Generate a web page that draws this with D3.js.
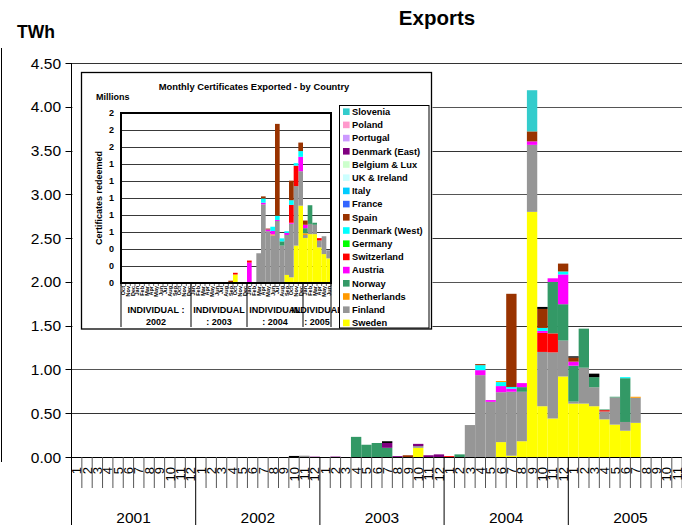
<!DOCTYPE html>
<html><head><meta charset="utf-8">
<script src="https://cdn.jsdelivr.net/npm/d3@7/dist/d3.min.js"></script>
<style>body{margin:0;background:#fff}svg{display:block;font-family:"Liberation Sans",Arial,sans-serif}</style>
</head><body><svg id="c" width="682" height="525"></svg>
<script>
// ---------------- DATA ----------------
const monthLabels = ["1","2","3","4","5","6","7","8","9","10","11","12"];
const years = ["2001","2002","2003","2004","2005"];
const yTicks = [0,0.5,1,1.5,2,2.5,3,3.5,4,4.5];
const z12 = [0,0,0,0,0,0,0,0,0,0,0,0];

// Main chart (TWh), one value per month Jan 2001 .. Dec 2005
const mSweden = [].concat(z12, z12,
  [0,0,0,0,0,0,0,0,0,0.105,0,0],
  [0,0,0,0,0,0.17,0.015,0.18,2.80,0.58,0.44,0.92],
  [0.61,0.61,0.58,0.43,0.37,0.30,0.39,0,0,0,0,0]);
const mFinland = [].concat(z12,
  [0,0,0,0,0,0,0,0,0,0,0.015,0],
  [0,0,0,0,0,0,0,0,0,0.02,0,0],
  [0,0,0.365,0.935,0.63,0.57,0.73,0.565,0.765,0.62,0.755,0.41],
  [0.023,0.41,0.217,0.09,0.31,0.10,0.286,0,0,0,0,0]);
const mSwitzerland = [].concat(z12, z12, z12,
  [0.01,0,0,0,0,0,0,0,0,0.217,0.217,0],
  [0,0,0,0.015,0,0,0,0,0,0,0,0]);
const mNorway = [].concat(z12, z12,
  [0,0,0,0.23,0.14,0.16,0.105,0,0,0,0,0],
  [0,0.03,0,0,0,0,0,0.053,0,0,0.587,0.415],
  [0.41,0.446,0.115,0.008,0.008,0.5,0,0,0,0,0,0]);
const mAustria = [].concat(z12, z12, z12,
  [0,0,0,0.057,0.02,0.07,0.035,0.046,0.04,0.023,0.042,0.34],
  [0.046,0,0,0,0,0,0,0,0,0,0,0]);
const mDenmarkWest = [].concat(z12, z12, z12,
  [0,0,0,0.057,0,0.046,0.02,0,0,0.034,0,0.034],
  [0,0,0,0,0,0.012,0,0,0,0,0,0]);
const mNetherlands = [].concat(z12, z12, z12,
  [0,0,0,0,0,0.012,0,0,0,0,0,0],
  [0,0,0,0,0,0,0.012,0,0,0,0,0]);
const mSpain = [].concat(z12, z12,
  [0,0,0,0,0,0,0,0,0.02,0,0,0],
  [0,0,0,0.012,0,0,1.064,0,0.114,0.217,0,0.09],
  [0.046,0,0,0,0,0,0,0,0,0,0,0]);
const mDenmarkEast = [].concat(z12,
  [0,0,0,0,0,0,0,0,0,0,0,0.004],
  [0,0.005,0,0,0,0,0.055,0.01,0,0.025,0.02,0.03],
  z12, z12);
const mOther = [].concat(z12,
  [0,0,0,0,0,0,0,0,0,0.012,0,0],
  [0,0,0,0,0,0,0.02,0,0,0,0,0],
  [0,0,0,0,0,0,0,0,0,0.023,0,0],
  [0.015,0,0.04,0,0,0,0,0,0,0,0,0]);
const mSlovenia = [].concat(z12, z12, z12,
  [0,0,0,0,0,0,0,0,0.47,0,0,0],
  z12);

// Inset (millions of certificates), Oct 2001 .. Jun 2005
const insetGroups = [["INDIVIDUAL :","2002"],["INDIVIDUAL",": 2003"],["INDIVIDUAL",": 2004"],["INDIVIDUAL",": 2005"]];
const insetGroupSizes = [15,12,12,6];
const insetMonthNames = ["Oct","Nov","Dec","Jan","Feb","Mar","Apr","May","Jun","Jul","Aug","Sep","Oct","Nov","Dec",
  "Jan","Feb","Mar","Apr","May","Jun","Jul","Aug","Sep","Oct","Nov","Dec",
  "Jan","Feb","Mar","Apr","May","Jun","Jul","Aug","Sep","Oct","Nov","Dec",
  "Jan","Feb","Mar","Apr","May","Jun"];
const insetTicks = [0,0.2,0.4,0.6,0.8,1.0,1.2,1.4,1.6,1.8,2.0];
const z15 = [0,0,0,0,0,0,0,0,0,0,0,0,0,0,0];
const iSweden = [].concat(z15,
  [0,0,0,0,0,0,0,0,0,0.10,0,0],
  [0,0,0,0,0,0,0.01,0,0.095,0.067,0.44,0.91],
  [0.53,0.575,0.575,0.42,0.34,0.29]);
const iFinland = [].concat(z15, z12,
  [0,0,0.35,0.925,0.61,0.56,0.72,0.44,0.47,0.63,0.70,0.405],
  [0.035,0.12,0.11,0.08,0.21,0.095]);
const iNetherlands = [].concat(z15, z12,
  [0,0,0,0,0,0.012,0,0,0,0,0,0],
  [0.02,0,0,0,0,0]);
const iNorway = [].concat(z15, z12,
  [0,0,0,0,0,0,0,0.05,0,0,0,0],
  [0.06,0.22,0.024,0,0,0]);
const iAustria = [].concat(z15, z12,
  [0.24,0,0,0.02,0.02,0.04,0.012,0,0.024,0.012,0,0.17],
  [0.04,0,0,0,0,0]);
const iSwitzerland = [].concat(z15,
  [0,0,0,0,0,0,0,0,0,0.02,0,0.008],
  [0.024,0,0,0,0,0,0,0,0,0.21,0.24,0],
  [0,0,0,0.028,0,0]);
const iDenmarkWest = [].concat(z15, z12,
  [0,0,0,0.05,0,0.05,0.05,0.035,0.02,0.055,0.03,0.067],
  [0,0,0,0,0,0]);
const iSpain = [].concat(z15,
  [0,0,0,0,0,0,0.01,0,0.027,0,0,0],
  [0,0,0,0.024,0.01,0,1.08,0,0,0.23,0,0.1],
  [0.05,0,0,0,0,0]);

const legendNames = ["Slovenia","Poland","Portugal","Denmark (East)","Belgium & Lux","UK & Ireland","Italy","France","Spain","Denmark (West)","Germany","Switzerland","Austria","Norway","Netherlands","Finland","Sweden"];
const legendColors = ["#33CCCC","#FF99CC","#CC99FF","#800080","#CCFFCC","#CCFFFF","#00CCFF","#3366FF","#993300","#00FFFF","#00FF00","#FF0000","#FF00FF","#339966","#FF9900","#969696","#FFFF00"];
const colorOf = Object.fromEntries(legendNames.map((n,i)=>[n,legendColors[i]]));
colorOf["Other"] = "#000000";

// ---------------- BUILD ----------------
const mainSeries = {"Sweden":mSweden,"Finland":mFinland,"Switzerland":mSwitzerland,"Norway":mNorway,"Austria":mAustria,
  "Denmark (West)":mDenmarkWest,"Netherlands":mNetherlands,"Spain":mSpain,"Denmark (East)":mDenmarkEast,"Other":mOther,"Slovenia":mSlovenia};
const mainKeys = Object.keys(mainSeries);
const mainRows = mSweden.map((_,i)=>{const r={i}; mainKeys.forEach(k=>r[k]=mainSeries[k][i]); return r;});

const insetSeries = {"Sweden":iSweden,"Finland":iFinland,"Netherlands":iNetherlands,"Norway":iNorway,"Austria":iAustria,
  "Switzerland":iSwitzerland,"Denmark (West)":iDenmarkWest,"Spain":iSpain};
const insetKeys = Object.keys(insetSeries);
const insetRows = iSweden.map((_,i)=>{const r={i}; insetKeys.forEach(k=>r[k]=insetSeries[k][i]); return r;});

const svg = d3.select("#c");
const X0 = 71.5, MW = 10.35;
const x = d3.scaleBand().domain(mainRows.map(d=>d.i)).range([X0, X0+MW*mainRows.length]).padding(0);
const y = d3.scaleLinear().domain([0,4.5]).range([457,63]);

// frame line at left
svg.append("line").attr("x1",1.5).attr("x2",1.5).attr("y1",48).attr("y2",462).attr("stroke","#000");

// gridlines
svg.append("g").selectAll("line").data(yTicks.filter(v=>v>0)).join("line")
  .attr("x1",X0).attr("x2",682).attr("y1",d=>Math.round(y(d))+0.5).attr("y2",d=>Math.round(y(d))+0.5)
  .attr("stroke",(d,i)=>i%2?"#555":"#333").attr("stroke-width",1);

// bars
const mStack = d3.stack().keys(mainKeys)(mainRows);
svg.append("g").selectAll("g").data(mStack).join("g").attr("fill",d=>colorOf[d.key])
  .selectAll("rect").data(d=>d.filter(s=>s[1]-s[0]>0)).join("rect")
  .attr("x",d=>x(d.data.i)).attr("width",x.bandwidth())
  .attr("y",d=>y(d[1])).attr("height",d=>y(d[0])-y(d[1]));

// y axis
const ya = svg.append("g");
ya.append("line").attr("x1",X0).attr("x2",X0).attr("y1",y(4.5)).attr("y2",y(0)).attr("stroke","#000");
ya.selectAll("line.t").data(yTicks).join("line").attr("class","t")
  .attr("x1",X0-6).attr("x2",X0).attr("y1",d=>Math.round(y(d))+0.5).attr("y2",d=>Math.round(y(d))+0.5).attr("stroke","#000");
ya.selectAll("text").data(yTicks).join("text")
  .attr("x",61).attr("y",d=>y(d)).attr("dy","0.36em").attr("text-anchor","end")
  .attr("font-size",15.5).text(d3.format(".2f"));

// x axis
const xa = svg.append("g");
xa.append("line").attr("x1",X0).attr("x2",682).attr("y1",457.5).attr("y2",457.5).attr("stroke","#000");
xa.selectAll("line.m").data(d3.range(mainRows.length+1)).join("line").attr("class","m")
  .attr("x1",i=>X0+i*x.step()).attr("x2",i=>X0+i*x.step()).attr("y1",457).attr("y2",i=>i%12===0?525:488)
  .attr("stroke",i=>i%12===0?"#000":"#555");
xa.selectAll("text.m").data(mainRows).join("text").attr("class","m")
  .attr("transform",d=>`translate(${x(d.i)+x.bandwidth()/2},467) rotate(-90)`)
  .attr("text-anchor","end").attr("dy","0.36em").attr("font-size",13)
  .text(d=>monthLabels[d.i%12]);
xa.selectAll("text.y").data(years).join("text").attr("class","y")
  .attr("x",(d,k)=>X0+(k*12+6)*x.step()).attr("y",523).attr("text-anchor","middle")
  .attr("font-size",15.5).text(d=>d);

// titles
svg.append("text").attr("x",437).attr("y",25).attr("text-anchor","middle").attr("font-weight","bold").attr("font-size",20.5).text("Exports");
svg.append("text").attr("x",17).attr("y",38).attr("font-weight","bold").attr("font-size",17.5).text("TWh");

// ---------------- INSET ----------------
const ins = svg.append("g");
ins.append("rect").attr("x",72.5).attr("y",64).attr("width",360).attr("height",267).attr("fill","#fff");
ins.append("rect").attr("x",81.5).attr("y",72.5).attr("width",350).attr("height",256.5).attr("fill","#fff").attr("stroke","#000").attr("stroke-width",1.3);
ins.append("text").attr("x",254).attr("y",90).attr("text-anchor","middle").attr("font-weight","bold").attr("font-size",9.4)
  .text("Monthly Certificates Exported - by Country");
ins.append("text").attr("x",96).attr("y",100).attr("font-weight","bold").attr("font-size",9).text("Millions");

const ix = d3.scaleBand().domain(insetRows.map(d=>d.i)).range([121,331]).padding(0);
const iy = d3.scaleLinear().domain([0,2]).range([283,113]);
ins.append("g").selectAll("line").data(insetTicks.filter(v=>v>0&&v<2)).join("line")
  .attr("x1",121).attr("x2",331).attr("y1",d=>Math.round(iy(d))+0.5).attr("y2",d=>Math.round(iy(d))+0.5)
  .attr("stroke","#222").attr("stroke-width",0.9);
const iStack = d3.stack().keys(insetKeys)(insetRows);
ins.append("g").selectAll("g").data(iStack).join("g").attr("fill",d=>colorOf[d.key])
  .selectAll("rect").data(d=>d.filter(s=>s[1]-s[0]>0)).join("rect")
  .attr("x",d=>ix(d.data.i)).attr("width",ix.bandwidth())
  .attr("y",d=>iy(d[1])).attr("height",d=>iy(d[0])-iy(d[1]));
ins.append("rect").attr("x",121).attr("y",113).attr("width",210).attr("height",170).attr("fill","none").attr("stroke","#000").attr("stroke-width",2);
ins.append("g").selectAll("text").data(insetTicks).join("text")
  .attr("x",114).attr("y",d=>iy(d)).attr("dy","0.36em").attr("text-anchor","end").attr("font-weight","bold").attr("font-size",9)
  .text(d3.format(".0f"));
ins.append("text").attr("transform","translate(102,198) rotate(-90)").attr("text-anchor","middle").attr("font-weight","bold").attr("font-size",9)
  .text("Certificates redeemed");
// inset x ticks & labels
ins.append("g").selectAll("line").data(d3.range(insetRows.length+1)).join("line")
  .attr("x1",i=>121+i*ix.step()).attr("x2",i=>121+i*ix.step()).attr("y1",283).attr("y2",286).attr("stroke","#000").attr("stroke-width",0.6);
const clip = svg.append("defs").append("clipPath").attr("id","ilab");
clip.append("rect").attr("x",121).attr("y",284).attr("width",215).attr("height",13);
ins.append("g").attr("clip-path","url(#ilab)").selectAll("text").data(insetRows).join("text")
  .attr("transform",d=>`translate(${ix(d.i)+ix.bandwidth()/2},286) rotate(-90)`)
  .attr("text-anchor","end").attr("dy","0.36em").attr("font-weight","bold").attr("font-size",5.5)
  .text(d=>insetMonthNames[d.i]);
let acc = 0;
const gb = insetGroupSizes.map(n=>{const s=acc; acc+=n; return [s,acc];});
ins.append("g").selectAll("line").data([0].concat(gb.map(g=>g[1]))).join("line")
  .attr("x1",i=>121+i*ix.step()).attr("x2",i=>121+i*ix.step()).attr("y1",283).attr("y2",327).attr("stroke","#000");
const gl = ins.append("g").selectAll("g").data(insetGroups).join("g");
gl.append("text").attr("x",(d,k)=>121+(gb[k][0]+gb[k][1])/2*ix.step()).attr("y",313).attr("text-anchor","middle")
  .attr("font-weight","bold").attr("font-size",9).text(d=>d[0]);
gl.append("text").attr("x",(d,k)=>121+(gb[k][0]+gb[k][1])/2*ix.step()).attr("y",325).attr("text-anchor","middle")
  .attr("font-weight","bold").attr("font-size",9).text(d=>d[1]);

// legend
const lg = ins.append("g");
lg.append("rect").attr("x",339.5).attr("y",105.5).attr("width",89.5).attr("height",222.5).attr("fill","#fff").attr("stroke","#000");
const li = lg.selectAll("g").data(legendNames).join("g").attr("transform",(d,i)=>`translate(343,${111.7+i*13.2})`);
li.append("rect").attr("x",0).attr("y",-3.3).attr("width",6.6).attr("height",6.6).attr("fill",(d,i)=>legendColors[i]);
li.append("text").attr("x",9).attr("dy","0.36em").attr("font-weight","bold").attr("font-size",9.3).text(d=>d);
</script></body></html>
